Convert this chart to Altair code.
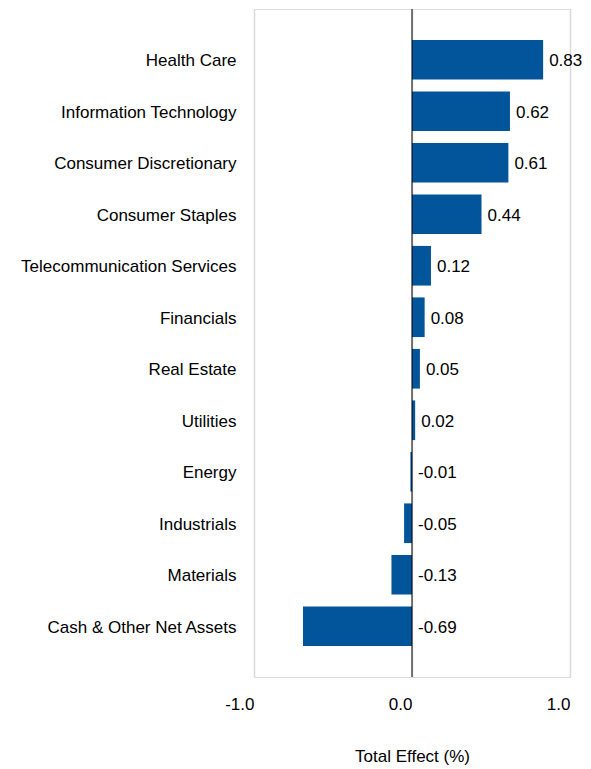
import altair as alt
import pandas as pd

sectors = [
    "Health Care",
    "Information Technology",
    "Consumer Discretionary",
    "Consumer Staples",
    "Telecommunication Services",
    "Financials",
    "Real Estate",
    "Utilities",
    "Energy",
    "Industrials",
    "Materials",
    "Cash & Other Net Assets",
]
total_effect = [0.83, 0.62, 0.61, 0.44, 0.12, 0.08, 0.05, 0.02, -0.01, -0.05, -0.13, -0.69]
x_ticks = [-1.0, 0.0, 1.0]

FONT = "Liberation Sans"
BAR_COLOR = "#02559A"

df = pd.DataFrame({
    "sector": sectors,
    "value": total_effect,
    "label": [f"{v:.2f}" for v in total_effect],
    "label_x": [max(v, 0.0) for v in total_effect],
})

W, H = 316, 668

x_scale = alt.Scale(domain=[-1, 1], nice=False, zero=False)
y_scale = alt.Scale(domain=sectors, paddingInner=0.23, paddingOuter=0.6)

base = alt.Chart(df)

bars = base.mark_bar(color=BAR_COLOR).encode(
    x=alt.X(
        "value:Q",
        scale=x_scale,
        title="Total Effect (%)",
        axis=alt.Axis(
            values=x_ticks,
            labelExpr="replace(format(datum.value, '.1f'), '\u2212', '-')",
            domain=False,
            ticks=False,
            grid=True,
            gridColor="#D9D9D9",
            gridWidth=1.5,
            labelAlign="right",
            labelFont=FONT,
            labelFontSize=17,
            labelColor="#000000",
            labelPadding=19,
            titleFont=FONT,
            titleFontSize=17,
            titleFontWeight="normal",
            titleColor="#000000",
            titlePadding=36,
        ),
    ),
    x2=alt.datum(0),
    y=alt.Y(
        "sector:N",
        scale=y_scale,
        sort=sectors,
        title=None,
        axis=alt.Axis(
            domain=False,
            ticks=False,
            grid=False,
            labelFont=FONT,
            labelFontSize=17,
            labelColor="#000000",
            labelPadding=18,
            labelLimit=400,
            labelBaseline="middle",
            labelOffset=1.5,
        ),
    ),
)

zero_line = alt.Chart(pd.DataFrame({"z": [0.0]})).mark_rule(color="#000000", strokeWidth=1).encode(
    x=alt.X("z:Q", scale=x_scale)
)

labels = base.mark_text(align="left", baseline="middle", dx=6, dy=1.5, font=FONT, fontSize=17, color="#000000").encode(
    x=alt.X("label_x:Q", scale=x_scale),
    y=alt.Y("sector:N", scale=y_scale, sort=sectors),
    text="label:N",
)

chart = (
    alt.layer(bars, zero_line, labels)
    .properties(
        width=W,
        height=H,
        autosize=alt.AutoSizeParams(type="none"),
        padding={"left": 246, "top": 1, "right": 13, "bottom": 94},
    )
    .configure_view(stroke=None)
    .configure(background="#FFFFFF")
)

chart.save("out.html", embed_options={"renderer": "svg", "actions": False})
